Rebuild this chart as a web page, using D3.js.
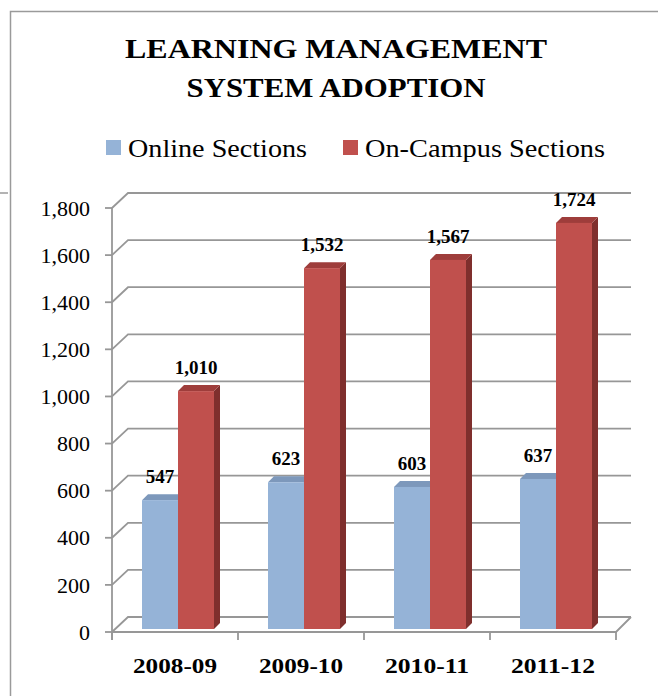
<!DOCTYPE html>
<html>
<head>
<meta charset="utf-8">
<script src="https://cdn.jsdelivr.net/npm/d3@7/dist/d3.min.js"></script>
<style>
  body { margin: 0; background: #fff; }
  text { font-family: "Liberation Serif", "DejaVu Serif", serif; fill: #000; }
</style>
</head>
<body>
<div id="chart"></div>
<script>
// chart data
const categories = ['2008-09', '2009-10', '2010-11', '2011-12'];
const seriesNames = ['Online Sections', 'On-Campus Sections'];
const online = [547, 623, 603, 637];
const onCampus = [1010, 1532, 1567, 1724];
const yTicks = [0, 200, 400, 600, 800, 1000, 1200, 1400, 1600, 1800];
const titleLines = ['LEARNING MANAGEMENT', 'SYSTEM ADOPTION'];

const width = 658, height = 696;
const frontCol = ['#95b3d7', '#c0504d'];
const topCol = ['#7d98bb', '#9e3d3b'];
const sideCol = ['#7a93b3', '#7f2f2d'];
const gridCol = '#979797';

const wallDx = 16, wallDy = -15;   // 3d depth of the back wall
const barShift = 3;                 // bars sit a bit behind the front plane
const barDepth = 6;                 // top / side face size

const svg = d3.select('#chart')
    .append('svg')
    .attr('width', width)
    .attr('height', height);

// chart area border (right and bottom edges fall outside the picture)
svg.append('rect')
    .attr('x', 10.5).attr('y', 11.5)
    .attr('width', 700).attr('height', 700)
    .attr('fill', 'none')
    .attr('stroke', '#9a9a9a')
    .attr('stroke-width', 1.5);
svg.append('line')
    .attr('x1', 0).attr('x2', 8)
    .attr('y1', 193).attr('y2', 193)
    .attr('stroke', '#9a9a9a').attr('stroke-width', 1.5);

// title
svg.selectAll('.title')
    .data(titleLines)
    .enter()
    .append('text')
        .attr('class', 'title')
        .attr('x', 336)
        .attr('y', (d, i) => 58 + i * 39)
        .attr('text-anchor', 'middle')
        .attr('font-size', 28)
        .attr('font-weight', 'bold')
        .attr('textLength', (d, i) => i === 0 ? 422 : 299)
        .attr('lengthAdjust', 'spacingAndGlyphs')
        .text(d => d);

// legend
const legendX = [106, 343];
const legendW = [179, 240];
const legend = svg.selectAll('.legend')
    .data(seriesNames)
    .enter()
    .append('g')
        .attr('class', 'legend')
        .attr('transform', (d, i) => `translate(${legendX[i]},140)`);
legend.append('rect')
    .attr('width', 15).attr('height', 15)
    .attr('fill', (d, i) => frontCol[i]);
legend.append('text')
    .attr('x', 22)
    .attr('y', 17)
    .attr('font-size', 26)
    .attr('textLength', (d, i) => legendW[i])
    .attr('lengthAdjust', 'spacingAndGlyphs')
    .text(d => d);

// scales
const y = d3.scaleLinear().domain([0, 1800]).range([632, 208]);
const x0 = d3.scaleBand().domain(categories).range([112, 616]);
const x1 = d3.scaleBand().domain(seriesNames).range([0, x0.bandwidth()]).paddingOuter(0.75);
const xLeft = x0.range()[0], xRight = x0.range()[1];

// back wall gridlines with the short diagonal on the side wall
svg.selectAll('.grid')
    .data(yTicks)
    .enter()
    .append('path')
        .attr('class', 'grid')
        .attr('d', d => `M${xLeft},${y(d)} L${xLeft + wallDx},${y(d) + wallDy} L${xRight + wallDx - 1},${y(d) + wallDy}`)
        .attr('fill', 'none')
        .attr('stroke', gridCol)
        .attr('stroke-width', 1.8);

// floor front edge and right side
svg.append('path')
    .attr('d', `M${xLeft},${y(0)} L${xRight},${y(0)} L${xRight + wallDx - 1},${y(0) + wallDy}`)
    .attr('fill', 'none')
    .attr('stroke', gridCol)
    .attr('stroke-width', 1.8);

// value axis
svg.append('line')
    .attr('x1', xLeft).attr('x2', xLeft)
    .attr('y1', y(1800)).attr('y2', y(0) + 8)
    .attr('stroke', gridCol).attr('stroke-width', 1.8);
svg.selectAll('.ytick')
    .data(yTicks)
    .enter()
    .append('line')
        .attr('class', 'ytick')
        .attr('x1', xLeft - 7).attr('x2', xLeft)
        .attr('y1', d => y(d)).attr('y2', d => y(d))
        .attr('stroke', gridCol).attr('stroke-width', 1.8);
svg.selectAll('.ylab')
    .data(yTicks)
    .enter()
    .append('text')
        .attr('class', 'ylab')
        .attr('x', 90)
        .attr('y', d => y(d))
        .attr('dy', '0.35em')
        .attr('text-anchor', 'end')
        .attr('font-size', 22)
        .text(d => d3.format(',')(d));

// category axis ticks and labels
svg.selectAll('.xtick')
    .data(categories.concat(['end']))
    .enter()
    .append('line')
        .attr('class', 'xtick')
        .attr('x1', (d, i) => xLeft + i * x0.step())
        .attr('x2', (d, i) => xLeft + i * x0.step())
        .attr('y1', y(0)).attr('y2', y(0) + 8)
        .attr('stroke', gridCol).attr('stroke-width', 1.8);
svg.selectAll('.xlab')
    .data(categories)
    .enter()
    .append('text')
        .attr('class', 'xlab')
        .attr('x', d => x0(d) + x0.bandwidth() / 2)
        .attr('y', 673)
        .attr('text-anchor', 'middle')
        .attr('font-size', 22)
        .attr('font-weight', 'bold')
        .attr('textLength', 84)
        .attr('lengthAdjust', 'spacingAndGlyphs')
        .text(d => d);

// bars: one record per bar, online first so the red bar covers its side
const bars = [];
categories.forEach((c, i) => {
    bars.push({cat: c, s: 0, v: online[i]});
    bars.push({cat: c, s: 1, v: onCampus[i]});
});
const bx = d => x0(d.cat) + x1(seriesNames[d.s]) + barShift;
const bw = x1.bandwidth();
const base = y(0) - barShift;
const btop = d => y(d.v) - barShift;

const g = svg.selectAll('.bar')
    .data(bars)
    .enter()
    .append('g')
        .attr('class', 'bar');
g.append('path')   // side face
    .attr('d', d => `M${bx(d) + bw},${base} L${bx(d) + bw + barDepth},${base - barDepth} L${bx(d) + bw + barDepth},${btop(d) - barDepth} L${bx(d) + bw},${btop(d)} Z`)
    .attr('fill', d => sideCol[d.s]);
g.append('path')   // top face
    .attr('d', d => `M${bx(d)},${btop(d)} L${bx(d) + barDepth},${btop(d) - barDepth} L${bx(d) + bw + barDepth},${btop(d) - barDepth} L${bx(d) + bw},${btop(d)} Z`)
    .attr('fill', d => topCol[d.s]);
g.append('rect')   // front face
    .attr('x', bx)
    .attr('y', btop)
    .attr('width', bw)
    .attr('height', d => base - btop(d))
    .attr('fill', d => frontCol[d.s]);

// value labels
svg.selectAll('.vlab')
    .data(bars)
    .enter()
    .append('text')
        .attr('class', 'vlab')
        .attr('x', d => bx(d) + bw / 2)
        .attr('y', d => btop(d) - 17)
        .attr('text-anchor', 'middle')
        .attr('font-size', 19)
        .attr('font-weight', 'bold')
        .text(d => d3.format(',')(d.v));
</script>
</body>
</html>
